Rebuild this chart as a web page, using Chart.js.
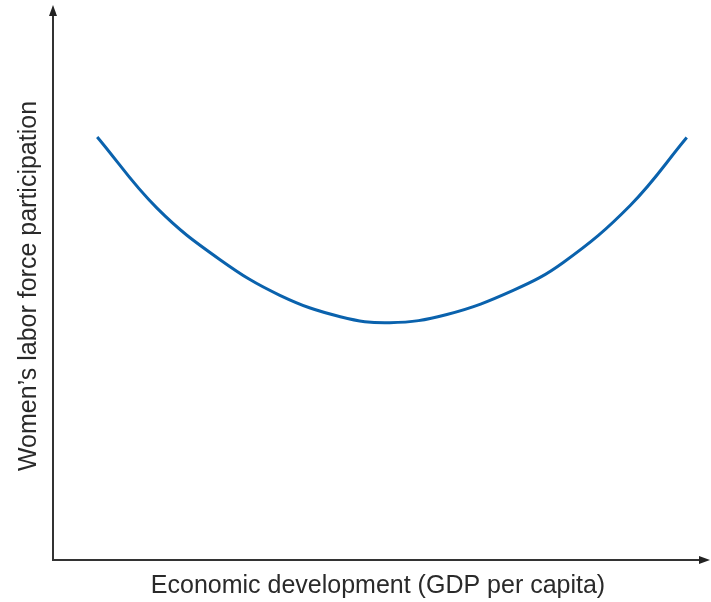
<!DOCTYPE html>
<html>
<head>
<meta charset="utf-8">
<script src="https://cdn.jsdelivr.net/npm/chart.js@4"></script>
<style>
  html, body { margin: 0; padding: 0; background: #fff; }
  #wrap { width: 711px; height: 602px; }
</style>
</head>
<body>
<div id="wrap"><canvas id="myChart"></canvas></div>
<script>
// curve (x: development, y: participation, both 0-100)
var devel = [6.8, 16.0, 25.7, 34.9, 44.2, 51.8, 60.6, 70.8, 78.5, 88.8, 97.5];
var participation = [77.2, 64.2, 54.8, 48.3, 44.4, 43.3, 44.8, 49.2, 54.3, 64.7, 77.1];
var xTitle = 'Economic development (GDP per capita)';
var yTitle = 'Women\u2019s labor force participation';

var points = devel.map(function (x, i) { return {x: x, y: participation[i]}; });

// axis lines with arrowheads
var arrowAxes = {
    id: 'arrowAxes',
    afterDraw: function (chart) {
        var c = chart.ctx, a = chart.chartArea;
        c.save();
        c.strokeStyle = '#333';
        c.fillStyle = '#222';
        c.lineWidth = 2;
        c.beginPath();
        c.moveTo(a.left, a.top);
        c.lineTo(a.left, a.bottom);
        c.lineTo(a.right, a.bottom);
        c.stroke();
        // up arrow
        c.beginPath();
        c.moveTo(a.left, a.top - 7);
        c.lineTo(a.left - 4, a.top + 4);
        c.lineTo(a.left + 4, a.top + 4);
        c.closePath();
        c.fill();
        // right arrow
        c.beginPath();
        c.moveTo(a.right + 7, a.bottom);
        c.lineTo(a.right - 4, a.bottom - 4);
        c.lineTo(a.right - 4, a.bottom + 4);
        c.closePath();
        c.fill();
        c.restore();
    }
};

var ctx = document.getElementById('myChart').getContext('2d');
var chart = new Chart(ctx, {
    type: 'line',
    data: {
        datasets: [{
            data: points,
            borderColor: '#0a62ad',
            borderWidth: 3,
            pointRadius: 0,
            fill: false,
            tension: 0.4
        }]
    },
    options: {
        responsive: true,
        maintainAspectRatio: false,
        animation: false,
        layout: { padding: { top: 12, right: 8, left: 0, bottom: 0 } },
        plugins: { legend: { display: false }, tooltip: { enabled: false } },
        scales: {
            x: {
                type: 'linear', min: 0, max: 100,
                grid: { display: false },
                border: { display: false },
                ticks: { display: false },
                title: {
                    display: true, text: xTitle, color: '#2a2a2a',
                    font: { family: 'Liberation Sans', size: 25 },
                    padding: { top: 3, bottom: 1 }
                }
            },
            y: {
                min: 0, max: 100,
                grid: { display: false },
                border: { display: false },
                ticks: { display: false },
                title: {
                    display: true, text: yTitle, color: '#2a2a2a',
                    font: { family: 'Liberation Sans', size: 25 },
                    padding: { top: 14, bottom: 1 }
                }
            }
        }
    },
    plugins: [arrowAxes]
});
</script>
</body>
</html>
